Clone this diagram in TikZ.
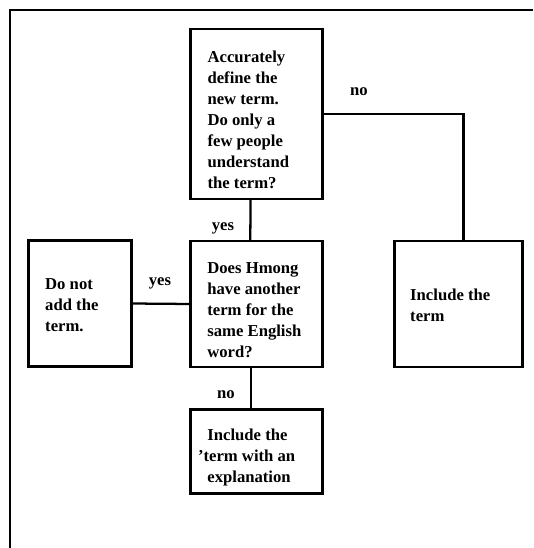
\documentclass[tikz,border=0pt]{standalone}
\usepackage{fontspec}
\setmainfont{Liberation Serif}
\usetikzlibrary{calc}
\tikzset{
  every picture/.style={line width=1.6pt},
  box/.style={draw, rectangle, line width=2.1pt, inner sep=0pt, outer sep=0pt},
  txt/.style={font=\bfseries\fontsize{12.5}{15.75}\selectfont, align=left, inner sep=0pt, anchor=west},
  lbl/.style={font=\bfseries\fontsize{12.5}{15.75}\selectfont, inner sep=0pt},
  link/.style={line width=1.7pt},
}

\begin{document}
\begin{tikzpicture}[x=0.75pt, y=-0.75pt]
  \useasboundingbox (0,0) rectangle (533,548);
  % ---------- frame ----------
  \draw[line width=2.1pt] (10,548) -- (10,10) -- (533,10);
  % ---------- boxes ----------
  \node[box, minimum width=99pt, minimum height=127.5pt] (define) at (256.5,114) {};
  \node[box, minimum width=99pt, minimum height=94.5pt] (hmong) at (256.3,304) {};
  \node[box, minimum width=77.5pt, minimum height=95pt] (skip) at (79.8,303.5) {};
  \node[box, minimum width=96.5pt, minimum height=94.5pt] (incl) at (458.5,304) {};
  \node[box, minimum width=99pt, minimum height=63.5pt] (explain) at (256.3,451.5) {};
  % ---------- texts ----------
  \node[txt] (define-t) at ($(define.west)+(16,6)$) {Accurately\\define the\\new term.\\Do only a\\few people\\understand\\the term?};
  \node[txt] (hmong-t) at ($(hmong.west)+(16,6)$) {Does Hmong\\have another\\term for the\\same English\\word?};
  \node[txt] (skip-t) at ($(skip.west)+(16,1.5)$) {Do not\\add the\\term.};
  \node[txt] (incl-t) at ($(incl.west)+(15,1)$) {Include the\\term};
  \node[txt] (explain-t) at ($(explain.west)+(16,5.5)$) {Include the\\\kern-7pt'term with an\\explanation};
  % ---------- connectors ----------
  \draw[link] ($(define.south)+(-6,0)$) -- ($(hmong.north)+(-6,0)$);
  \draw[link] (define.east) -| ($(incl.north)+(5,0)$);
  \draw[link] (skip.east) -- (hmong.west);
  \draw[link] ($(hmong.south)+(-5,0)$) -- ($(explain.north)+(-5,0)$);
  % ---------- answers ----------
  \node[lbl] (no-a) at (359,92) {no};
  \node[lbl] (yes-a) at (223,228) {yes};
  \node[lbl] (yes-b) at (160,283) {yes};
  \node[lbl] (no-b) at (226,394.5) {no};
\end{tikzpicture}
\end{document}
